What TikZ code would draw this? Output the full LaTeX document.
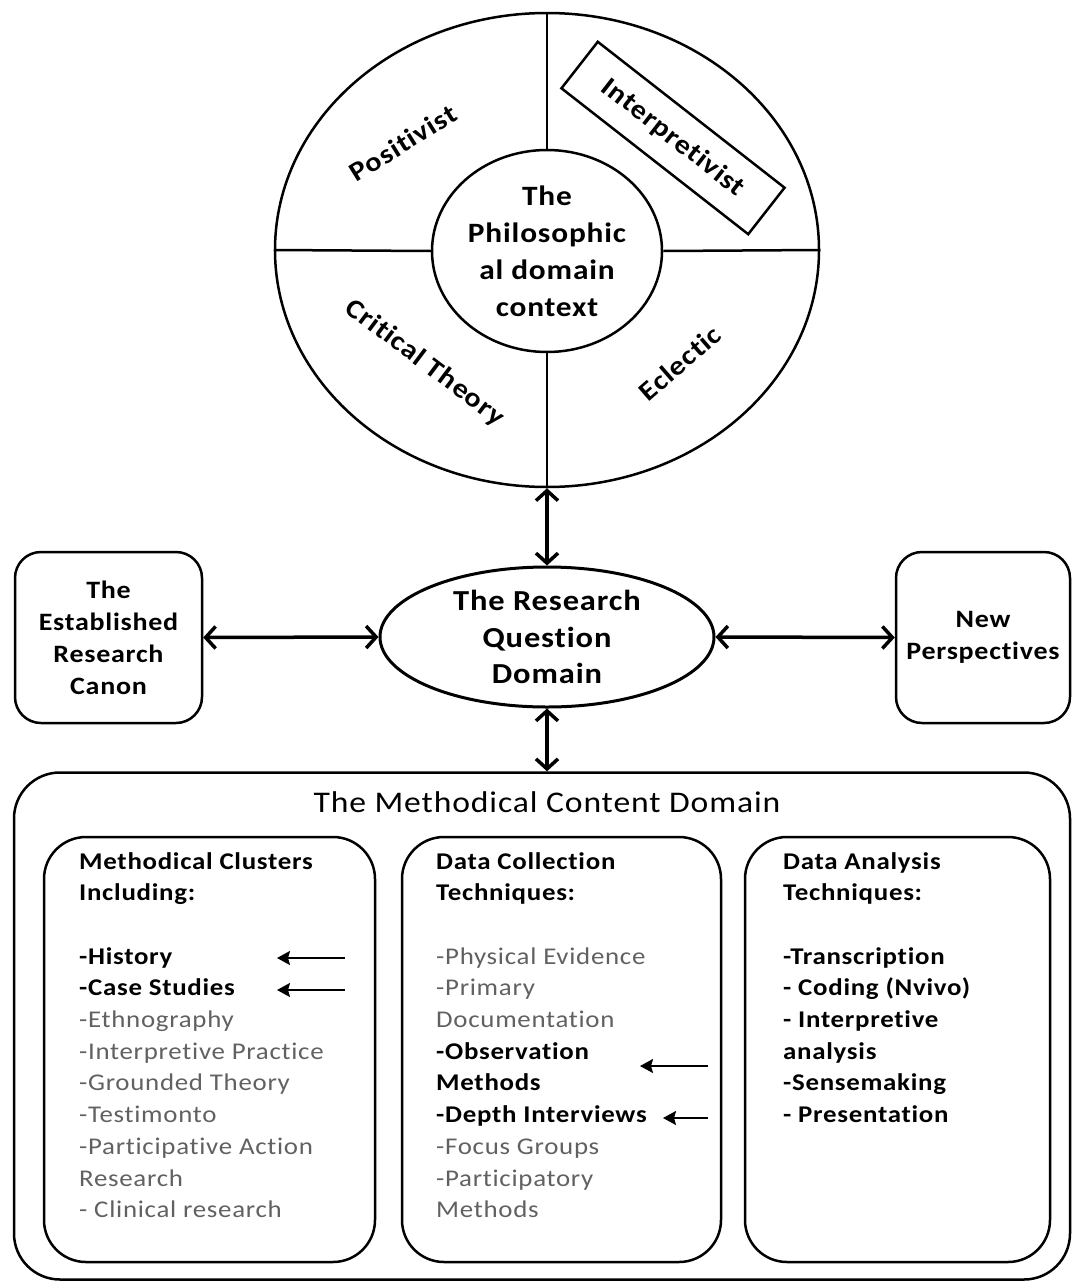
\documentclass[tikz,border=0pt]{standalone}
\usepackage{fontspec}
\setmainfont{Carlito}[FakeStretch=1.12,LetterSpace=3,Ligatures=NoCommon]
\usetikzlibrary{arrows.meta,positioning,shapes.geometric}

\begin{document}
\begin{tikzpicture}[x=1pt,y=-1pt,
  every node/.style={font=\fontsize{24}{31.7}\selectfont},
  quad/.style={font=\fontsize{27}{30}\selectfont\bfseries},
  frame/.style={draw,line width=2.5pt,rounded corners=26pt,align=center,
    font=\fontsize{25}{32}\selectfont\bfseries},
  pane/.style={draw,line width=2.5pt,rounded corners=42pt,minimum height=425pt},
  items/.style={anchor=north west,align=left,inner sep=0pt,text=black!62},
  link/.style={line width=3.5pt,
    {Straight Barb[length=10pt,width=22pt]}-{Straight Barb[length=10pt,width=22pt]}},
  hint/.style={line width=2pt,-{Stealth[length=13pt,width=14pt,inset=2pt]}}]
\useasboundingbox (0,0) rectangle (1072,1282);

% philosophical domain
\node[draw,ellipse,line width=2.5pt,minimum width=544pt,minimum height=474pt,inner sep=0pt] (world) at (547,250) {};
\node[draw,ellipse,line width=2.5pt,minimum width=230pt,minimum height=202pt,inner sep=0pt,align=center,
  font=\fontsize{28}{37}\selectfont\bfseries] (core) at (547,251) {The\\Philosophic\\al domain\\context};
\draw[line width=2.5pt] (world.north) -- (core.north);
\draw[line width=2.5pt] (world.south) -- (core.south);
\draw[line width=2.5pt] (world.west) -- (core.west);
\draw[line width=2.5pt] (world.east) -- (core.east);

\node[quad,rotate=32] (posit) at (403,143) {Positivist};
\node[quad,draw,line width=2.5pt,rotate=-38,minimum width=237pt,minimum height=59pt,
  font=\fontsize{27}{30}\selectfont\bfseries] (interp) at (673,138) {Interpretivist};
\node[quad,rotate=-37] (crit) at (425,363) {Critical Theory};
\node[quad,rotate=41] (eclec) at (680,363) {Eclectic};

% research question
\node[draw,ellipse,line width=3pt,minimum width=334pt,minimum height=140pt,inner sep=0pt,align=center,
  font=\fontsize{29}{36.5}\selectfont\bfseries] (rq) at (547,637) {The Research\\Question\\Domain};
\node[frame,minimum width=187pt,minimum height=171pt] (canon) at (108.5,637.5) {The\\Established\\Research\\Canon};
\node[frame,minimum width=174pt,minimum height=171pt] (persp) at (983,637.5) {New\\Perspectives};

\draw[link] (world.south) -- (rq.north);
\draw[link] (canon.east) -- (rq.west);
\draw[link] (rq.east) -- (persp.west);

% methodical content
\node[draw,line width=2.5pt,rounded corners=46pt,minimum width=1056pt,minimum height=507pt] (mcd) at (542,1026) {};
\node[font=\fontsize{30}{32}\selectfont] (mtitle) at (547,802) {The Methodical Content Domain};
\draw[link] (rq.south) -- (rq.south |- mcd.north);

\node[pane,minimum width=331pt] (clus) at (209.5,1049.5) {};
\node[pane,minimum width=319pt] (coll) at (561.5,1049.5) {};
\node[pane,minimum width=305pt] (anal) at (897.5,1049.5) {};

\node[items] (clustxt) at (79,852) {\textcolor{black}{\bfseries Methodical Clusters}\\
  \textcolor{black}{\bfseries Including:}\\ \\
  \textcolor{black}{\bfseries -History}\\
  \textcolor{black}{\bfseries -Case Studies}\\
  -Ethnography\\-Interpretive Practice\\-Grounded Theory\\-Testimonto\\
  -Participative Action\\Research\\- Clinical research};
\node[items] (colltxt) at (436,852) {\textcolor{black}{\bfseries Data Collection}\\
  \textcolor{black}{\bfseries Techniques:}\\ \\
  -Physical Evidence\\-Primary\\Documentation\\
  \textcolor{black}{\bfseries -Observation}\\
  \textcolor{black}{\bfseries Methods}\\
  \textcolor{black}{\bfseries -Depth Interviews}\\
  -Focus Groups\\-Participatory\\Methods};
\node[items,text=black,font=\fontsize{24}{31.7}\selectfont\bfseries] (analtxt) at (783,852) {Data Analysis\\
  Techniques:\\ \\
  -Transcription\\- Coding (Nvivo)\\- Interpretive\\analysis\\-Sensemaking\\- Presentation};

\coordinate (hist-s) at (345,958);  \coordinate (hist-t) at (277,958);
\coordinate (case-s) at (345,990);  \coordinate (case-t) at (277,990);
\coordinate (obs-s) at (708,1066);  \coordinate (obs-t) at (640,1066);
\coordinate (dep-s) at (708,1118);  \coordinate (dep-t) at (663,1118);
\draw[hint] (hist-s) -- (hist-t);
\draw[hint] (case-s) -- (case-t);
\draw[hint] (obs-s) -- (obs-t);
\draw[hint] (dep-s) -- (dep-t);
\end{tikzpicture}
\end{document}
